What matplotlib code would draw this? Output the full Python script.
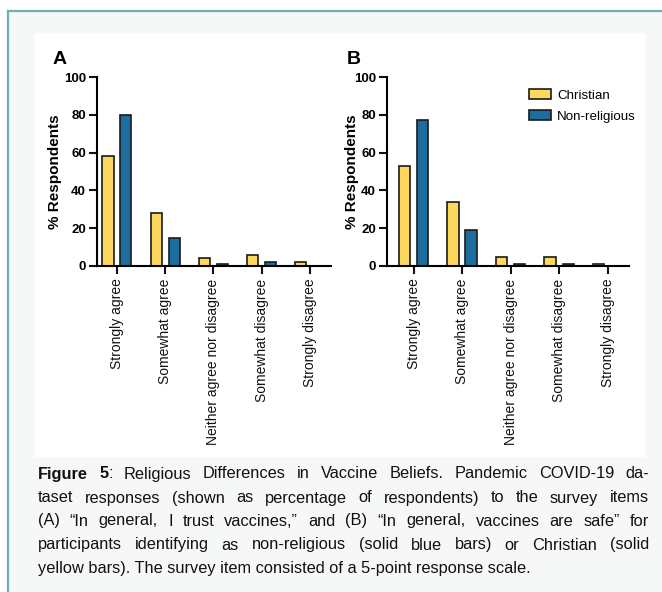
import numpy as np
import matplotlib
matplotlib.use("Agg")
from matplotlib import pyplot as plt
from matplotlib.patches import Rectangle
from matplotlib.lines import Line2D

plt.rcParams['font.family'] = ['Liberation Sans', 'DejaVu Sans']

categories = ["Strongly agree", "Somewhat agree", "Neither agree nor disagree",
              "Somewhat disagree", "Strongly disagree"]
groups = ["Christian", "Non-religious"]
trust_christian = [58, 28, 4, 6, 2]
trust_nonrel = [80, 15, 1, 2, 0]
safe_christian = [53, 34, 5, 5, 1]
safe_nonrel = [77, 19, 1, 1, 0]
yticks = [0, 20, 40, 60, 80, 100]

caption_lines = [
    [[("Figure", "bold")], [("5", "bold"), (":", "normal")], "Religious", "Differences", "in",
     "Vaccine", "Beliefs.", "Pandemic", "COVID-19", "da-"],
    "taset responses (shown as percentage of respondents) to the survey items",
    "(A) \u201cIn general, I trust vaccines,\u201d and (B) \u201cIn general, vaccines are safe\u201d for",
    "participants identifying as non-religious (solid blue bars) or Christian (solid",
    "yellow bars). The survey item consisted of a 5-point response scale.",
]

W, H = 662, 592
YELLOW = "#FCD95E"
BLUE = "#1D6E9E"

fig = plt.figure(figsize=(W / 100, H / 100), dpi=100)
fig.patch.set_facecolor("white")


def fx(px):
    return px / W


def fy(py):
    return 1 - py / H


# framed box behind everything
fig.add_artist(Rectangle((fx(8), 0), 1, fy(11), transform=fig.transFigure,
                         facecolor="#F6F8F7", edgecolor="none", zorder=0))
fig.add_artist(Line2D([fx(8), fx(8)], [0, fy(11)], transform=fig.transFigure,
                      color="#6FAFAD", lw=1.6, zorder=1))
fig.add_artist(Line2D([fx(8), 1], [fy(11), fy(11)], transform=fig.transFigure,
                      color="#6FAFAD", lw=1.6, zorder=1))
fig.add_artist(Rectangle((fx(35), fy(457)), fx(645 - 35), (457 - 33) / H,
                         transform=fig.transFigure, facecolor="white",
                         edgecolor="none", zorder=1))


def panel(left, right, xlo, letter, letter_x, ylab_x, christian, nonrel, legend=False):
    ax = fig.add_axes([fx(left), fy(266), fx(right - left), 189 / H])
    ax.set_zorder(2)
    ax.patch.set_alpha(0)
    x = np.arange(len(categories))
    off, bw = 0.186, 0.23
    b1 = ax.bar(x - off, christian, bw, color=YELLOW, edgecolor="#1a1a1a", lw=1.2,
                label=groups[0])
    b2 = ax.bar(x + off, nonrel, bw, color=BLUE, edgecolor="#1a1a1a", lw=1.2,
                label=groups[1])
    ax.set_xlim(xlo, 4.44)
    ax.set_ylim(0, 100)
    ax.set_yticks(yticks)
    ax.set_yticklabels([str(v) for v in yticks], fontsize=9.5, fontweight="bold")
    ax.set_xticks(x)
    ax.set_xticklabels(categories, rotation=90, fontsize=10, va="top", ha="center",
                       color="#111111")
    for s in ["top", "right"]:
        ax.spines[s].set_visible(False)
    for s in ["left", "bottom"]:
        ax.spines[s].set_linewidth(1.5)
    ax.tick_params(axis="both", length=6, width=1.5, color="#111111")
    ax.tick_params(axis="y", pad=2)
    ax.tick_params(axis="x", pad=3)
    ax.set_ylabel("% Respondents", fontsize=11, fontweight="bold")
    ax.yaxis.set_label_coords((ylab_x - left) / (right - left), 0.5)
    fig.text(fx(letter_x), fy(64), letter, fontsize=14, fontweight="bold", va="baseline")
    if legend:
        fs_px = 9.6 * 100 / 72
        ax.legend(handles=[b1, b2], frameon=False, loc="upper left",
                  bbox_to_anchor=((529 - left) / (right - left), (266 - 89) / 189),
                  fontsize=9.6, borderpad=0, handlelength=22 / fs_px,
                  handleheight=10 / fs_px, handletextpad=6 / fs_px,
                  labelspacing=8.5 / fs_px, borderaxespad=0)
    return ax


panel(97, 331, -0.414, "A", 53, 62, trust_christian, trust_nonrel)
panel(387, 629, -0.546, "B", 347, 359, safe_christian, safe_nonrel, legend=True)

# justified caption; the last line is set flush left as one string
cap_fs = 11.8
cap_left, cap_right = 38, 649
line_y = [474, 498, 521, 545, 568]
renderer = fig.canvas.get_renderer()


def to_segments(word):
    if isinstance(word, str):
        return [(word, "normal")]
    return word


for i, line in enumerate(caption_lines):
    if i == len(caption_lines) - 1:
        fig.text(fx(cap_left), fy(line_y[i]), line, fontsize=cap_fs, va="center",
                 color="#111111", zorder=3)
        continue
    words = line.split(" ") if isinstance(line, str) else line
    words = [to_segments(w) for w in words]
    items = []
    for segs in words:
        arts = []
        wsum = 0
        for txt, wt in segs:
            t = fig.text(0, 0, txt, fontsize=cap_fs, fontweight=wt, va="center",
                         color="#111111", zorder=3)
            w = t.get_window_extent(renderer).width
            arts.append((t, w))
            wsum += w
        items.append((arts, wsum))
    total = sum(w for _, w in items)
    gap = (cap_right - cap_left - total) / (len(items) - 1)
    xpos = cap_left
    for arts, wsum in items:
        xx = xpos
        for t, w in arts:
            t.set_position((fx(xx), fy(line_y[i])))
            xx += w
        xpos += wsum + gap

fig.savefig("out.png", dpi=100)
